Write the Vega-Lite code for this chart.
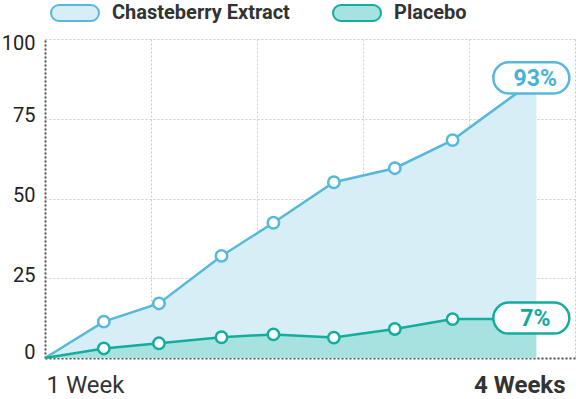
{
  "$schema": "https://vega.github.io/schema/vega-lite/v6.json",
  "width": 530,
  "height": 319,
  "autosize": {"type": "none"},
  "padding": {"left": 45, "top": 39, "right": 1, "bottom": 41},
  "config": {"view": {"stroke": null}, "font": "Roboto"},
  "data": {"values": [
    {"series": "Chasteberry Extract", "x": 0, "y": 0},
    {"series": "Chasteberry Extract", "x": 11.1, "y": 11.4},
    {"series": "Chasteberry Extract", "x": 21.5, "y": 17.1},
    {"series": "Chasteberry Extract", "x": 33.3, "y": 32.0},
    {"series": "Chasteberry Extract", "x": 43.1, "y": 42.4},
    {"series": "Chasteberry Extract", "x": 54.5, "y": 55.1},
    {"series": "Chasteberry Extract", "x": 66.0, "y": 59.5},
    {"series": "Chasteberry Extract", "x": 76.9, "y": 68.3},
    {"series": "Chasteberry Extract", "x": 92.7, "y": 87.5, "label": "93%"},
    {"series": "Placebo", "x": 0, "y": 0},
    {"series": "Placebo", "x": 11.1, "y": 3.0},
    {"series": "Placebo", "x": 21.5, "y": 4.6},
    {"series": "Placebo", "x": 33.3, "y": 6.5},
    {"series": "Placebo", "x": 43.1, "y": 7.4},
    {"series": "Placebo", "x": 54.5, "y": 6.4},
    {"series": "Placebo", "x": 66.0, "y": 9.1},
    {"series": "Placebo", "x": 76.9, "y": 12.2},
    {"series": "Placebo", "x": 92.7, "y": 12.2, "label": "7%"}
  ]},
  "encoding": {
    "x": {"field": "x", "type": "quantitative",
      "scale": {"domain": [0, 100], "nice": false},
      "axis": {
        "title": null,
        "values": [0, 20, 40, 60, 80, 100],
        "labelExpr": "datum.value == 0 ? '1 Week' : datum.value == 100 ? '4 Weeks' : ''",
        "labelFontSize": 24,
        "labelColor": "#333333",
        "labelFontWeight": {"condition": {"test": "datum.value == 100", "value": "bold"}, "value": "normal"},
        "labelAlign": {"condition": {"test": "datum.value == 100", "value": "right"}, "value": "left"},
        "labelOffset": {"condition": {"test": "datum.value == 100", "value": -10}, "value": 1},
        "labelBaseline": "alphabetic",
        "labelPadding": 34,
        "labelOverlap": false,
        "labelBound": false,
        "ticks": false,
        "tickSize": 0,
        "domainColor": "#555555",
        "domainDash": [2, 2],
        "domainWidth": 2,
        "grid": true,
        "gridColor": "#cccccc",
        "gridDash": [2, 2],
        "gridWidth": 1
      }
    },
    "y": {"field": "y", "type": "quantitative",
      "scale": {"domain": [0, 100], "nice": false},
      "axis": {
        "title": null,
        "values": [0, 25, 50, 75, 100],
        "labelFontSize": 20,
        "labelColor": "#222222",
        "labelPadding": 10,
        "labelOffset": {"condition": [{"test": "datum.value == 100", "value": 4}, {"test": "datum.value == 0", "value": -6}], "value": -3},
        "labelBound": false,
        "labelOverlap": false,
        "ticks": false,
        "tickSize": 0,
        "domainColor": "#555555",
        "domainDash": [2, 2],
        "domainWidth": 2,
        "grid": true,
        "gridColor": "#cccccc",
        "gridDash": [2, 2],
        "gridWidth": 1
      }
    }
  },
  "layer": [
    {
      "transform": [{"filter": "datum.series == 'Chasteberry Extract'"}],
      "mark": {"type": "area", "fillOpacity": 1},
      "encoding": {
        "fill": {"field": "series", "type": "nominal",
          "scale": {"domain": ["Chasteberry Extract", "Placebo"], "range": ["#d7eef6", "#a7e2e1"]},
          "legend": {
            "title": null,
            "orient": "none",
            "legendX": 5,
            "legendY": -51,
            "direction": "horizontal",
            "symbolType": "M -0.667,-0.333 L 0.667,-0.333 A 0.333,0.333 0 0 1 0.667,0.333 L -0.667,0.333 A 0.333,0.333 0 0 1 -0.667,-0.333 Z",
            "symbolSize": 2304,
            "symbolStrokeWidth": 2,
            "symbolOpacity": 1,
            "labelFont": "Roboto",
            "labelFontSize": 20,
            "labelFontWeight": "bold",
            "labelColor": "#333333",
            "labelLimit": 400,
            "labelOffset": 12,
            "columnPadding": 38,
            "padding": 0
          }
        }
      }
    },
    {
      "transform": [{"filter": "datum.series == 'Placebo'"}],
      "mark": {"type": "area", "fillOpacity": 1},
      "encoding": {
        "fill": {"field": "series", "type": "nominal"}
      }
    },
    {
      "mark": {"type": "line", "strokeWidth": 2.5},
      "encoding": {
        "stroke": {"field": "series", "type": "nominal",
          "scale": {"domain": ["Chasteberry Extract", "Placebo"], "range": ["#56b9dc", "#13ad9d"]},
          "legend": {"title": null}
        }
      }
    },
    {
      "transform": [{"filter": "datum.x > 0 && datum.x < 90"}],
      "mark": {"type": "point", "shape": "circle", "filled": true, "fill": "white", "size": 130, "strokeWidth": 2.5, "opacity": 1},
      "encoding": {
        "stroke": {"field": "series", "type": "nominal"}
      }
    },
    {
      "transform": [{"filter": "datum.x > 90"}],
      "mark": {"type": "point", "shape": "M -0.592,-0.408 L 0.592,-0.408 A 0.408,0.408 0 0 1 0.592,0.408 L -0.592,0.408 A 0.408,0.408 0 0 1 -0.592,-0.408 Z", "filled": true, "fill": "white", "size": 5776, "strokeWidth": 2.5, "opacity": 1, "xOffset": -5, "yOffset": -1},
      "encoding": {
        "stroke": {"field": "series", "type": "nominal"}
      }
    },
    {
      "transform": [{"filter": "datum.x > 90"}],
      "mark": {"type": "text", "font": "Roboto", "fontSize": 23, "fontWeight": "bold", "align": "center", "baseline": "middle", "dx": -1, "dy": 0},
      "encoding": {
        "text": {"field": "label"},
        "color": {"field": "series", "type": "nominal",
          "scale": {"domain": ["Chasteberry Extract", "Placebo"], "range": ["#47b1d8", "#16a99a"]},
          "legend": null
        }
      }
    }
  ]
}
